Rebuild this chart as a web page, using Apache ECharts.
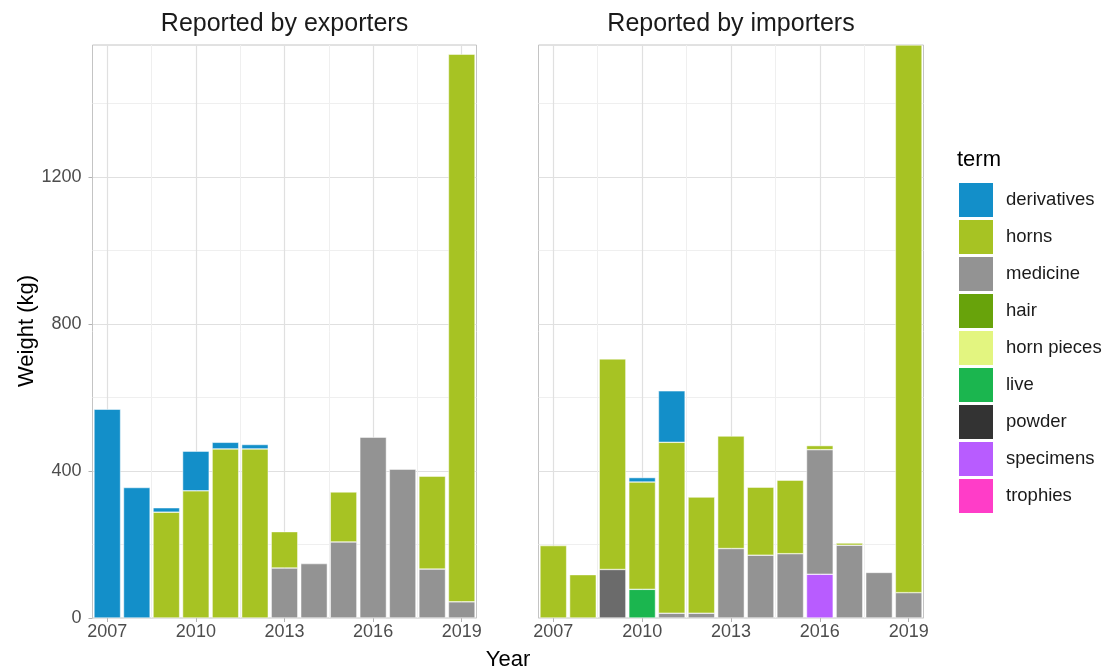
<!DOCTYPE html>
<html>
<head>
<meta charset="utf-8">
<script src="https://cdn.jsdelivr.net/npm/echarts@6/dist/echarts.min.js"></script>
<style>
html,body{margin:0;padding:0;background:#fff;}
#chart{width:1106px;height:672px;}
</style>
</head>
<body>
<div id="chart"></div>
<script>
// ---- data ----
const years = [2007,2008,2009,2010,2011,2012,2013,2014,2015,2016,2017,2018,2019];
const terms = ['derivatives','horns','medicine','hair','horn pieces','live','powder','specimens','trophies'];
const panelTitles = ['Reported by exporters','Reported by importers'];
const yTicks = [0,400,800,1200];
const xTicks = [2007,2010,2013,2016,2019];

// Reported by exporters (kg)
const expDerivatives = [568,355,12,108,18,12,0,0,0,0,0,0,0];
const expHorns       = [0,0,288,346,460,460,99,0,136,0,0,253,1490];
const expMedicine    = [0,0,0,0,0,0,136,148,207,492,405,133,44];

// Reported by importers (kg)
const impDerivatives = [0,0,0,12,140,0,0,0,0,0,0,0,0];
const impHorns       = [197,118,573,292,465,316,306,185,200,11,6,0,1490];
const impMedicine    = [0,0,0,0,13,13,189,171,175,339,198,124,69];
const impLive        = [0,0,0,78,0,0,0,0,0,0,0,0,0];
const impPowder      = [0,0,132,0,0,0,0,0,0,0,0,0,0];
const impSpecimens   = [0,0,0,0,0,0,0,0,0,119,0,0,0];

const panelData = [
  {'derivatives':expDerivatives,'horns':expHorns,'medicine':expMedicine},
  {'derivatives':impDerivatives,'horns':impHorns,'medicine':impMedicine,'live':impLive,'powder':impPowder,'specimens':impSpecimens}
];

// ---- styles ----
const colors = {
  'derivatives':'#138fc9','horns':'#a7c323','medicine':'#939393','hair':'#68a30b',
  'horn pieces':'#e3f580','live':'#1bb64f','powder':'#333333','specimens':'#b85cff','trophies':'#ff3dc8'
};
const barColors = Object.assign({}, colors, {'powder':'#6b6b6b'});
const FONT = '"Liberation Sans", Arial, Helvetica, sans-serif';
const grids = [
  {left:92.5, width:384, top:45, height:573},
  {left:538.5, width:385, top:45, height:573}
];
const yMax = 1559;
const cats = years.map(String);
const tickIdx = (i)=> xTicks.indexOf(years[i]) >= 0;

const chart = echarts.init(document.getElementById('chart'), null, {renderer:'canvas'});

const xAxes = [], yAxes = [], series = [];
grids.forEach((g,p)=>{
  xAxes.push({
    type:'category', gridIndex:p, data:cats, boundaryGap:true,
    axisLine:{show:false}, splitLine:{show:false},
    axisTick:{show:true, length:4, alignWithLabel:true, interval:(i)=>tickIdx(i), lineStyle:{color:'#b3b3b3'}},
    axisLabel:{interval:(i)=>tickIdx(i), margin:5, fontSize:18, color:'#4d4d4d', fontFamily:FONT}
  });
  yAxes.push({
    type:'value', gridIndex:p, min:0, max:yMax, interval:400,
    axisLine:{show:false},
    axisTick:{show:p===0, length:4, customValues:yTicks, lineStyle:{color:'#b3b3b3'}},
    axisLabel:{show:p===0, customValues:yTicks, margin:11, fontSize:18, color:'#4d4d4d', fontFamily:FONT, formatter:v=>String(v)},
    splitLine:{show:true, lineStyle:{color:'#e0e0e0', width:1.2}}
  });
});
grids.forEach((g,p)=>{
  xAxes.push({
    type:'value', gridIndex:p, min:years[0]-0.5, max:years[years.length-1]+0.5,
    show:false, splitLine:{show:false}
  });
});

grids.forEach((g,p)=>{
  const bw = g.width/years.length*0.9;
  const stackOrder = terms.slice().reverse();
  stackOrder.forEach(t=>{
    const arr = panelData[p][t];
    if(!arr && p===1) return;
    series.push({
      name:t, type:'bar', xAxisIndex:p, yAxisIndex:p, stack:'s'+p, barWidth:bw,
      itemStyle:{color:barColors[t], borderColor:'#ffffff', borderWidth:0.5},
      emphasis:{disabled:true},
      data: years.map((y,i)=> (arr && arr[i]) ? arr[i] : null)
    });
  });
  const minorY = yTicks.map(v=>v+200);
  const minorX = xTicks.slice(0,-1).map(v=>v+1.5);
  const lines = [];
  minorY.forEach(v=>lines.push({yAxis:v, lineStyle:{color:'#efefef', width:1, type:'solid'}}));
  xTicks.forEach(v=>lines.push({xAxis:v, lineStyle:{color:'#e0e0e0', width:1.2, type:'solid'}}));
  minorX.forEach(v=>lines.push({xAxis:v, lineStyle:{color:'#efefef', width:1, type:'solid'}}));
  series.push({
    type:'line', xAxisIndex:2+p, yAxisIndex:p, data:[], silent:true, z:0,
    markLine:{silent:true, z:1, symbol:['none','none'], label:{show:false}, animation:false, emphasis:{disabled:true}, data:lines}
  });
});

const graphics = [];
grids.forEach((g,p)=>{
  graphics.push({type:'text', x:g.left+g.width/2, y:24, style:{text:panelTitles[p], fontSize:25, fontFamily:FONT, fill:'#1a1a1a', align:'center', verticalAlign:'middle'}});
});
graphics.push({type:'text', x:(grids[0].left+grids[1].left+grids[1].width)/2, y:660, style:{text:'Year', fontSize:22, fontFamily:FONT, fill:'#000', align:'center', verticalAlign:'middle'}});
graphics.push({type:'text', x:27, y:331, rotation:Math.PI/2, style:{text:'Weight (kg)', fontSize:22, fontFamily:FONT, fill:'#000', align:'center', verticalAlign:'middle'}});
graphics.push({type:'text', x:957, y:160, style:{text:'term', fontSize:22, fontFamily:FONT, fill:'#000', align:'left', verticalAlign:'middle'}});

chart.setOption({
  animation:false,
  backgroundColor:'#ffffff',
  grid: grids.map(g=>Object.assign({show:true, borderColor:'#c4c4c4', borderWidth:1, backgroundColor:'transparent', containLabel:false}, g)),
  xAxis:xAxes, yAxis:yAxes,
  legend:{
    orient:'vertical', left:959, top:183, padding:0, itemWidth:34, itemHeight:34, itemGap:3,
    selectedMode:false, icon:'rect',
    textStyle:{fontSize:18.5, color:'#1a1a1a', fontFamily:FONT, padding:[0,0,0,8]},
    data: terms.map(t=>({name:t, itemStyle:{color:colors[t], borderWidth:0}}))
  },
  graphic:graphics,
  series:series
});
</script>
</body>
</html>
